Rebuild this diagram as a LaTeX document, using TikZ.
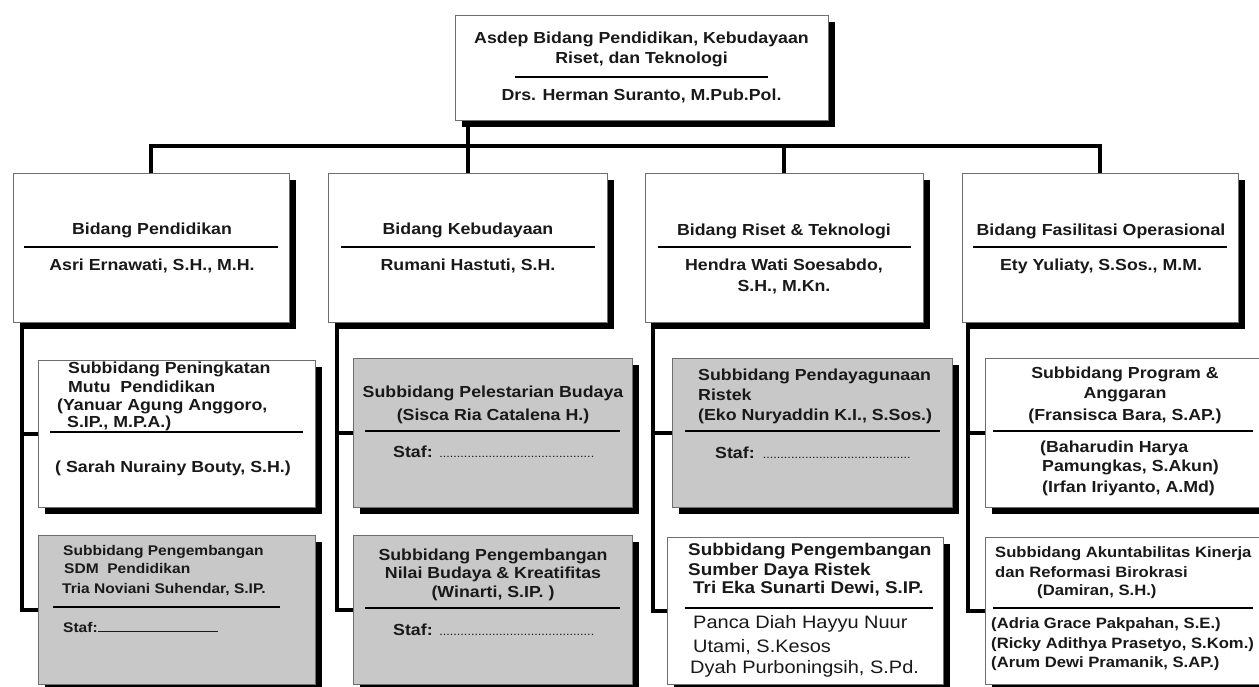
\documentclass[tikz,border=0pt]{standalone}
\usepackage{fontspec}
\setmainfont{Liberation Sans}[FakeStretch=1.11]
\usetikzlibrary{shadows}
\definecolor{ink}{RGB}{25,25,25}
\definecolor{boxgray}{RGB}{200,200,200}
\definecolor{edgegray}{RGB}{110,110,110}
\tikzset{
  box/.style={draw=edgegray, line width=1pt, inner sep=0pt,
    drop shadow={shadow xshift=7pt, shadow yshift=-7pt, fill=black, opacity=1}},
  graybox/.style={box, fill=boxgray},
  whitebox/.style={box, fill=white},
  conn/.style={line width=4pt, black},
  divline/.style={line width=2.5pt, black},
  subdiv/.style={line width=2pt, black},
  txt/.style={inner sep=0pt, text=ink, anchor=base, font=\bfseries\fontsize{16}{19}\selectfont},
  ltxt/.style={txt, anchor=base west},
  smalltxt/.style={ltxt, font=\bfseries\fontsize{14}{17}\selectfont},
  bigtxt/.style={ltxt, font=\bfseries\fontsize{17}{20}\selectfont},
  regtxt/.style={ltxt, font=\mdseries\fontsize{18}{21}\selectfont},
  ftxt/.style={ltxt, font=\bfseries\fontsize{15}{19}\selectfont},
}
\newcommand\mydots[1]{\makebox[#1][l]{\bfseries\fontsize{8}{8}\selectfont\dotfill}}
\begin{document}
\begin{tikzpicture}[x=1pt,y=-1pt]
\useasboundingbox (0,0) rectangle (1259,686);
\fill[white] (0,0) rectangle (1259,686);
\clip (0,0) rectangle (1259,686);

% ---------- top box ----------
\node[whitebox, minimum width=373pt, minimum height=105pt] (top) at (641.5,67.5) {};
\node[txt] (tA1) at (641.5,43) {Asdep Bidang Pendidikan, Kebudayaan};
\node[txt] (tA2) at (641.5,63) {Riset, dan Teknologi};
\draw[divline] (515,77) -- (768,77);
\node[txt] (tA3) at (641.5,100) {Drs. Herman Suranto, M.Pub.Pol.};

% ---------- level 2 boxes ----------
\node[whitebox, minimum width=276pt, minimum height=149pt] (pend) at (151,247.5) {};
\node[whitebox, minimum width=279pt, minimum height=149pt] (kebud) at (467.5,247.5) {};
\node[whitebox, minimum width=278pt, minimum height=149pt] (riset) at (784,247.5) {};
\node[whitebox, minimum width=276pt, minimum height=149pt] (fas) at (1100,247.5) {};

\node[txt] (pendT) at (152,234) {Bidang Pendidikan};
\draw[divline] (24,247) -- (278,247);
\node[txt] (pendN) at (152,270) {Asri Ernawati, S.H., M.H.};

\node[txt] (kebT) at (468,234) {Bidang Kebudayaan};
\draw[divline] (341,247) -- (595,247);
\node[txt] (kebN) at (468,270) {Rumani Hastuti, S.H.};

\node[txt] (risT) at (784,235) {Bidang Riset \& Teknologi};
\draw[divline] (658,247) -- (911,247);
\node[txt] (risN1) at (784,270) {Hendra Wati Soesabdo,};
\node[txt] (risN2) at (784,291) {S.H., M.Kn.};

\node[txt] (fasT) at (1101,235) {Bidang Fasilitasi Operasional};
\draw[divline] (973,247) -- (1227,247);
\node[txt] (fasN) at (1101,270) {Ety Yuliaty, S.Sos., M.M.};

% ---------- sub boxes ----------
\node[whitebox, minimum width=277pt, minimum height=147pt] (p1) at (176.5,433.5) {};
\node[graybox,  minimum width=277pt, minimum height=149pt] (p2) at (176.5,609.5) {};
\node[graybox,  minimum width=279pt, minimum height=149pt] (k1) at (492.5,432.5) {};
\node[graybox,  minimum width=279pt, minimum height=149pt] (k2) at (492.5,609.5) {};
\node[graybox,  minimum width=280pt, minimum height=149pt] (r1) at (812,432.5) {};
\node[whitebox, minimum width=276pt, minimum height=147pt] (r2) at (805,610.5) {};
\node[whitebox, minimum width=290pt, minimum height=149pt] (f1) at (1130,432.5) {};
\node[whitebox, minimum width=290pt, minimum height=147pt] (f2) at (1130,610.5) {};

% P1
\node[ltxt] (p1a) at (68,373) {Subbidang Peningkatan};
\node[ltxt] (p1b) at (68,392) {Mutu\ \ Pendidikan};
\node[ltxt] (p1c) at (57,410) {(Yanuar Agung Anggoro,};
\node[ltxt] (p1d) at (67,427) {S.IP., M.P.A.)};
\draw[subdiv] (50,432) -- (303,432);
\node[ltxt] (p1e) at (55,472) {( Sarah Nurainy Bouty, S.H.)};

% P2
\node[smalltxt] (p2a) at (63,555) {Subbidang Pengembangan};
\node[smalltxt] (p2b) at (64,573) {SDM\ \ Pendidikan};
\node[smalltxt] (p2c) at (62,593) {Tria Noviani Suhendar, S.IP.};
\draw[subdiv] (53,607) -- (280,607);
\node[smalltxt] (p2d) at (63,632) {Staf:\rule{120pt}{0.8pt}};

% K1
\node[txt] (k1a) at (493,397) {Subbidang Pelestarian Budaya};
\node[txt] (k1b) at (493,420) {(Sisca Ria Catalena H.)};
\draw[subdiv] (365,431) -- (620,431);
\node[ltxt] (k1c) at (393,457) {Staf: \mydots{155pt}};

% K2
\node[txt] (k2a) at (493,560) {Subbidang Pengembangan};
\node[txt] (k2b) at (493,578) {Nilai Budaya \& Kreatifitas};
\node[txt] (k2c) at (493,597) {(Winarti, S.IP. )};
\draw[subdiv] (365,608) -- (620,608);
\node[ltxt] (k2d) at (393,635) {Staf: \mydots{155pt}};

% R1
\node[ltxt] (r1a) at (698,380) {Subbidang Pendayagunaan};
\node[ltxt] (r1b) at (698,400) {Ristek};
\node[ltxt] (r1c) at (698,420) {(Eko Nuryaddin K.I., S.Sos.)};
\draw[subdiv] (685,431) -- (940,431);
\node[ltxt] (r1d) at (715,458) {Staf: \mydots{151pt}};

% R2
\node[bigtxt] (r2a) at (688,555) {Subbidang Pengembangan};
\node[bigtxt] (r2b) at (688,575) {Sumber Daya Ristek};
\node[bigtxt] (r2c) at (693,593) {Tri Eka Sunarti Dewi, S.IP.};
\draw[subdiv] (685,608) -- (933,608);
\node[regtxt] (r2d) at (693,628) {Panca Diah Hayyu Nuur};
\node[regtxt] (r2e) at (693,652) {Utami, S.Kesos};
\node[regtxt] (r2f) at (690,673) {Dyah Purboningsih, S.Pd.};

% F1
\node[txt] (f1a) at (1125,378) {Subbidang Program \&};
\node[txt] (f1b) at (1125,398) {Anggaran};
\node[txt] (f1c) at (1125,420) {(Fransisca Bara, S.AP.)};
\draw[subdiv] (993,431) -- (1253,431);
\node[ltxt] (f1d) at (1040,452) {(Baharudin Harya};
\node[ltxt] (f1e) at (1042,471) {Pamungkas, S.Akun)};
\node[ltxt] (f1f) at (1042,492) {(Irfan Iriyanto, A.Md)};

% F2
\node[ftxt] (f2a) at (995,557) {Subbidang Akuntabilitas Kinerja};
\node[ftxt] (f2b) at (995,577) {dan Reformasi Birokrasi};
\node[ftxt] (f2c) at (1037,595) {(Damiran, S.H.)};
\draw[subdiv] (993,608) -- (1253,608);
\node[ftxt] (f2d) at (991,628) {(Adria Grace Pakpahan, S.E.)};
\node[ftxt] (f2e) at (991,648) {(Ricky Adithya Prasetyo, S.Kom.)};
\node[ftxt] (f2f) at (991,667) {(Arum Dewi Pramanik, S.AP.)};

% ---------- connectors ----------
\coordinate (bus) at (0,146);
\draw[conn] (top.south -| kebud.north) -- (kebud.north);
\draw[conn] (pend.north) -- (pend.north |- bus) -- (fas.north |- bus) -- (fas.north);
\draw[conn] (riset.north) -- (riset.north |- bus);

\coordinate (pv) at ([xshift=9pt]pend.south west);
\coordinate (kv) at ([xshift=9pt]kebud.south west);
\coordinate (rv) at ([xshift=8pt]riset.south west);
\coordinate (fv) at ([xshift=6pt]fas.south west);

\draw[conn] (pv) |- (p2.west);
\draw[conn] (p1.west -| pv) -- (p1.west);
\draw[conn] (kv) |- (k2.west);
\draw[conn] (k1.west -| kv) -- (k1.west);
\draw[conn] (rv) |- (r2.west);
\draw[conn] (r1.west -| rv) -- (r1.west);
\draw[conn] (fv) |- (f2.west);
\draw[conn] (f1.west -| fv) -- (f1.west);
\end{tikzpicture}
\end{document}
